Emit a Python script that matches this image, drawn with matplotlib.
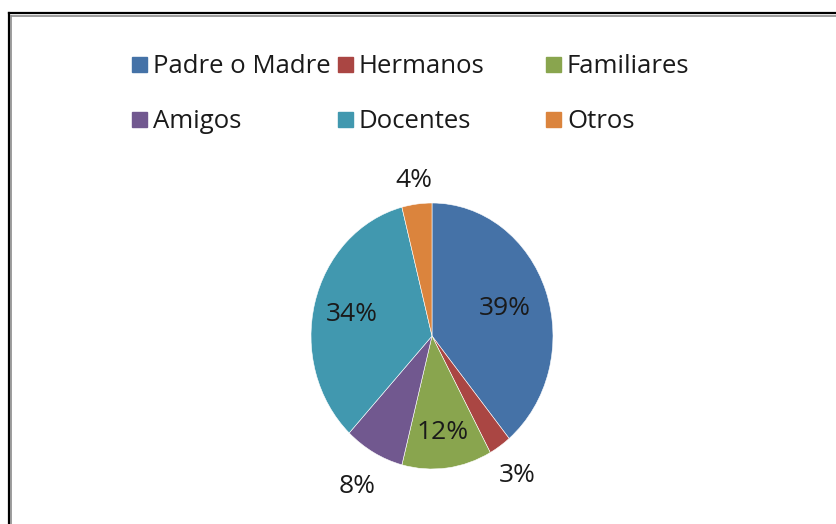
import numpy as np
import matplotlib
matplotlib.use('Agg')
from matplotlib import pyplot as plt
from matplotlib.patches import Rectangle
from matplotlib.lines import Line2D

matplotlib.rcParams['font.family'] = 'Open Sans'

categories = ['Padre o Madre', 'Hermanos', 'Familiares', 'Amigos', 'Docentes', 'Otros']
values = [39, 3, 12, 8, 34, 4]
colors = ['#4572A7', '#AA4643', '#89A54E', '#71588F', '#4198AF', '#DB843D']
# label distance from centre, per wedge (inside / outside)
label_dist = [0.64, 1.26, 0.72, 1.28, 0.68, 1.19]

W, H = 837, 524
fig = plt.figure(figsize=(W / 100, H / 100), dpi=100)

# pie drawn slightly taller than wide, as in the original
cx, cy, rx, ry = 432, 336, 121, 133
ax = fig.add_axes([(cx - rx) / W, (H - cy - ry) / H, 2 * rx / W, 2 * ry / H])
wedges, _ = ax.pie(values, colors=colors, startangle=90, counterclock=False,
                   wedgeprops=dict(edgecolor='white', linewidth=0.4))
ax.set_aspect('auto')
ax.set_xlim(-1, 1)
ax.set_ylim(-1, 1)
ax.axis('off')

for w, v, d in zip(wedges, values, label_dist):
    mid = np.deg2rad((w.theta1 + w.theta2) / 2)
    ax.text(d * np.cos(mid), d * np.sin(mid) - 0.01, '%d%%' % v, ha='center', va='center',
            fontsize=19, color='#1a1a1a', clip_on=False)

# legend, three columns as in the original
col_x = [132, 338, 546]
row_y = [64.5, 119.5]
for i, (name, c) in enumerate(zip(categories, colors)):
    x = col_x[i % 3]
    y = row_y[i // 3]
    fig.patches.append(Rectangle((x / W, (H - y - 7.5) / H), 15 / W, 15 / H,
                                 transform=fig.transFigure, color=c))
    fig.text((x + 21) / W, (H - y - 2) / H, name, ha='left', va='center',
             fontsize=18.5, color='#1a1a1a')

# chart frame (left and top edges only visible)
fig.add_artist(Line2D([9 / W, 9 / W], [0, (H - 13) / H], color='black', lw=1.6))
fig.add_artist(Line2D([9 / W, 1], [(H - 13) / H, (H - 13) / H], color='black', lw=1.6))
fig.add_artist(Line2D([11.5 / W, 11.5 / W], [0, (H - 15.5) / H], color='#8c8c8c', lw=1.2))
fig.add_artist(Line2D([11.5 / W, 1], [(H - 15.5) / H, (H - 15.5) / H], color='#8c8c8c', lw=1.2))

fig.savefig('out.png', dpi=100)
